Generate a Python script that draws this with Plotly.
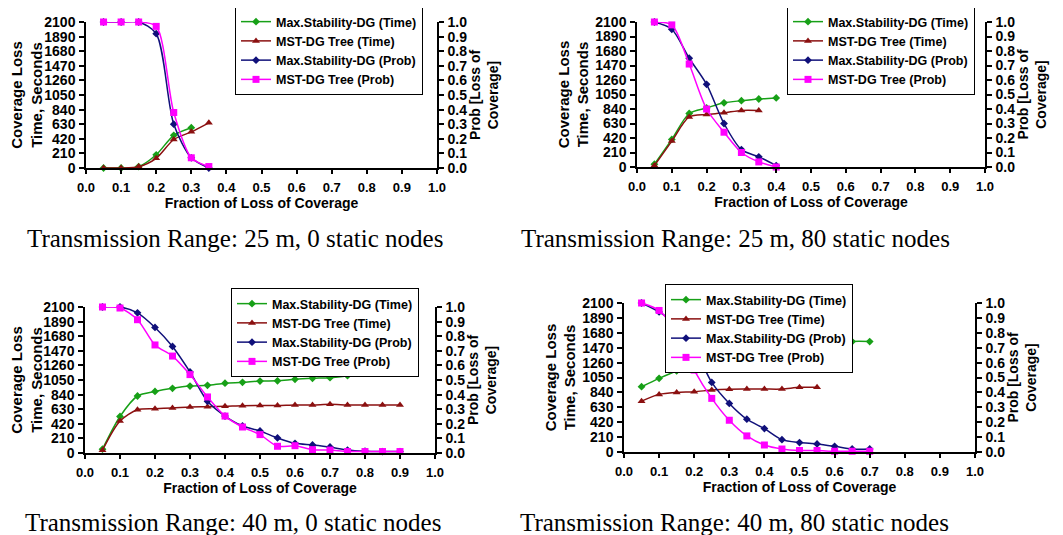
import plotly.graph_objects as go

# ---------------- data ----------------
x_p1 = [0.05, 0.10, 0.15, 0.20, 0.25, 0.30, 0.35]
p1_ms_time = [0, 0, 20, 190, 470, 580]
p1_mst_time = [0, 0, 20, 140, 410, 520, 650]
p1_ms_prob = [1.0, 1.0, 1.0, 0.92, 0.30, 0.07, 0.0]
p1_mst_prob = [1.0, 1.0, 1.0, 0.97, 0.38, 0.07, 0.01]

x_p2 = [0.05, 0.10, 0.15, 0.20, 0.25, 0.30, 0.35, 0.40]
p2_ms_time = [40, 400, 775, 855, 930, 960, 985, 1000]
p2_mst_time = [20, 375, 725, 760, 785, 820, 820]
p2_ms_prob = [1.0, 0.95, 0.75, 0.57, 0.30, 0.12, 0.07, 0.01]
p2_mst_prob = [1.0, 0.98, 0.71, 0.40, 0.24, 0.10, 0.035, 0.0]

x_p3 = [0.05, 0.10, 0.15, 0.20, 0.25, 0.30, 0.35, 0.40, 0.45,
        0.50, 0.55, 0.60, 0.65, 0.70, 0.75, 0.80, 0.85, 0.90]
p3_ms_time = [55, 525, 820, 885, 930, 962, 973, 1005, 1016,
              1035, 1038, 1060, 1074, 1084, 1112, 1184]
p3_mst_time = [40, 460, 623, 638, 647, 662, 665, 671, 680,
               682, 683, 690, 690, 700, 692, 690, 690, 690]
p3_ms_prob = [1.0, 1.0, 0.96, 0.86, 0.73, 0.555, 0.354, 0.253, 0.185,
              0.151, 0.103, 0.066, 0.055, 0.041, 0.02, 0.012, 0.01, 0.01]
p3_mst_prob = [1.0, 0.993, 0.913, 0.74, 0.664, 0.537, 0.384, 0.253, 0.178,
               0.126, 0.046, 0.05, 0.023, 0.02, 0.01, 0.01, 0.01, 0.01]

x_p4 = [0.05, 0.10, 0.15, 0.20, 0.25, 0.30, 0.35, 0.40, 0.45,
        0.50, 0.55, 0.60, 0.65, 0.70]
p4_ms_time = [920, 1038, 1142, 1220, 1260, 1227, 1298, 1298, 1295,
              1383, 1487, 1496, 1557, 1557]
p4_mst_time = [717, 812, 840, 849, 873, 885, 887, 887, 887, 911, 911]
p4_ms_prob = [1.0, 0.94, 0.85, 0.70, 0.467, 0.326, 0.22, 0.157, 0.083,
              0.063, 0.054, 0.038, 0.02, 0.02]
p4_mst_prob = [1.0, 0.95, 0.80, 0.55, 0.36, 0.213, 0.108, 0.047, 0.02,
               0.01, 0.01, 0.005, 0.005, 0.005]

series_names = ["Max.Stability-DG (Time)", "MST-DG Tree (Time)",
                "Max.Stability-DG (Prob)", "MST-DG Tree (Prob)"]
captions = ["Transmission Range: 25 m, 0 static nodes",
            "Transmission Range: 25 m, 80 static nodes",
            "Transmission Range: 40 m, 0 static nodes",
            "Transmission Range: 40 m, 80 static nodes"]

y_left_ticks = [0, 210, 420, 630, 840, 1050, 1260, 1470, 1680, 1890, 2100]

# ---------------- styles / layout ----------------
colors = ["#17a017", "#8b1010", "#10107a", "#ff00ff"]
symbols = ["diamond", "triangle-up", "diamond", "square"]
msizes = [6, 7, 6, 7]
FONT = "Liberation Sans, Arial, sans-serif"

# page body has an 8px margin -> figure drawn at (8, 8)
OFF = 8
W, H = 1063 - OFF, 535 - OFF


def px_x(v):
    return (v - OFF) / W


def px_y(v):
    return 1 - (v - OFF) / H


# pixel boxes of the plot areas: (left, right, top, bottom)
boxes = [(86, 437, 22, 168), (637, 985, 22, 167),
         (85, 435, 307, 453), (624, 975, 303, 452)]
legend_pos = [(235, 6), (787, 6), (231, 288), (665, 284)]
caption_pos = [(235, 238), (735, 238), (233, 522), (734, 522)]
all_data = [
    (x_p1, [p1_ms_time, p1_mst_time, p1_ms_prob, p1_mst_prob]),
    (x_p2, [p2_ms_time, p2_mst_time, p2_ms_prob, p2_mst_prob]),
    (x_p3, [p3_ms_time, p3_mst_time, p3_ms_prob, p3_mst_prob]),
    (x_p4, [p4_ms_time, p4_mst_time, p4_ms_prob, p4_mst_prob]),
]

fig = go.Figure()
layout = dict(
    width=W, height=H, margin=dict(l=0, r=0, t=0, b=0, autoexpand=False),
    paper_bgcolor="white", plot_bgcolor="white",
    font=dict(family=FONT, color="black"),
    annotations=[],
)

for i, (xv, series) in enumerate(all_data):
    k = i + 1
    xa = "x" if k == 1 else f"x{k}"
    yl_idx = 2 * k - 1
    yr_idx = 2 * k
    yl = "y" if yl_idx == 1 else f"y{yl_idx}"
    yr = f"y{yr_idx}"
    legname = "legend" if k == 1 else f"legend{k}"
    l, r, t, b = boxes[i]
    xd = [px_x(l), px_x(r)]
    yd = [px_y(b), px_y(t)]

    for j in range(4):
        yvals = series[j]
        xs = xv[:len(yvals)]
        fig.add_trace(go.Scatter(
            x=xs, y=yvals, name=series_names[j],
            mode="lines+markers",
            line=dict(color=colors[j], width=1.5, shape="spline", smoothing=0.8),
            marker=dict(symbol=symbols[j], size=msizes[j], color=colors[j]),
            xaxis=xa, yaxis=(yl if j < 2 else yr),
            legend=legname, cliponaxis=False,
        ))

    xkey = "xaxis" if k == 1 else f"xaxis{k}"
    ylkey = "yaxis" if yl_idx == 1 else f"yaxis{yl_idx}"
    yrkey = f"yaxis{yr_idx}"

    layout[xkey] = dict(
        domain=xd, anchor=yl, range=[0, 1], dtick=0.1, tick0=0,
        tickformat=".1f", showgrid=False, zeroline=False,
        showline=True, linecolor="black", linewidth=1.5,
        ticks="outside", ticklen=4, tickcolor="black", tickwidth=1.5,
        tickfont=dict(family=FONT, size=13, color="black", weight="bold"),
        ticklabelstandoff=3,
        title=dict(text="Fraction of Loss of Coverage",
                   font=dict(family=FONT, size=14, color="black", weight="bold"),
                   standoff=2),
    )
    layout[ylkey] = dict(
        domain=yd, anchor=xa, range=[0, 2100],
        tickvals=y_left_ticks, showgrid=False, zeroline=False,
        showline=True, linecolor="black", linewidth=1.5,
        ticks="outside", ticklen=5, tickcolor="black", tickwidth=1.5,
        tickfont=dict(family=FONT, size=14, color="black", weight="bold"),
        ticklabelstandoff=1,
        title=dict(text="Coverage Loss<br>Time, Seconds",
                   font=dict(family=FONT, size=15, color="black", weight="bold"),
                   standoff=3),
    )
    layout[yrkey] = dict(
        domain=yd, anchor=xa, overlaying=yl, side="right",
        range=[0, 1], dtick=0.1, tick0=0, tickformat=".1f",
        showgrid=False, zeroline=False,
        showline=True, linecolor="black", linewidth=1.5,
        ticks="outside", ticklen=5, tickcolor="black", tickwidth=1.5,
        tickfont=dict(family=FONT, size=14, color="black", weight="bold"),
        ticklabelstandoff=1,
        title=dict(text="Prob [Loss of<br>Coverage]",
                   font=dict(family=FONT, size=14, color="black", weight="bold"),
                   standoff=4),
    )
    layout[legname] = dict(
        x=px_x(legend_pos[i][0]), y=px_y(legend_pos[i][1]),
        xanchor="left", yanchor="top",
        bgcolor="white", bordercolor="black", borderwidth=1,
        font=dict(family=FONT, size=12.5, color="black", weight="bold"),
        tracegroupgap=0, itemwidth=30,
    )
    layout["annotations"].append(dict(
        text=captions[i], xref="paper", yref="paper",
        x=px_x(caption_pos[i][0]), y=px_y(caption_pos[i][1]),
        xanchor="center", yanchor="middle", showarrow=False,
        font=dict(family="Liberation Serif, Times New Roman, serif",
                  size=25, color="black"),
    ))

fig.update_layout(**layout)
fig.write_html("out.html")
